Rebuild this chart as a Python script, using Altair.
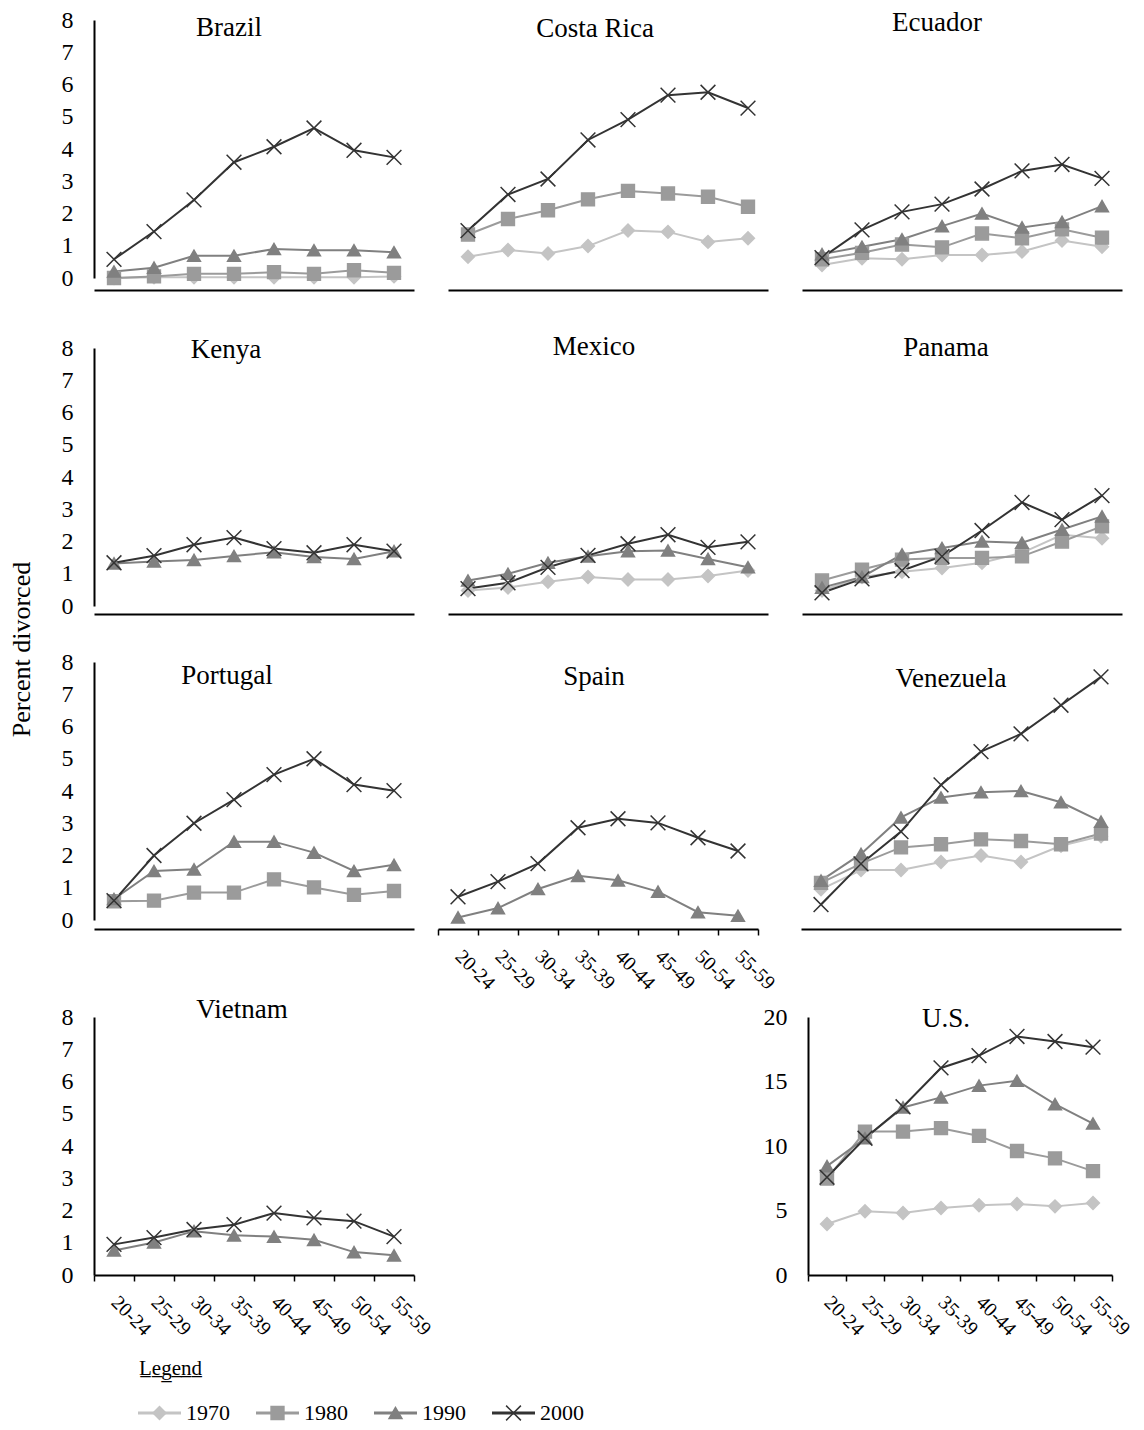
import altair as alt
import pandas as pd

FONT = "Liberation Serif"
AGES = ["20-24", "25-29", "30-34", "35-39", "40-44", "45-49", "50-54", "55-59"]
YEARS = ["1970", "1980", "1990", "2000"]
YEAR_INDEX = [0, 1, 2, 3]
COLORS = ["#c4c4c4", "#9b9b9b", "#808080", "#333333"]
X_MARK = "M-1.15,-1.15L1.15,1.15M-1.15,1.15L1.15,-1.15"
SHAPES = ["diamond", "square", "triangle-up", X_MARK]

BRAZIL_1970 = [0.00, 0.02, 0.02, 0.02, 0.02, 0.02, 0.02, 0.05]
BRAZIL_1980 = [0.00, 0.05, 0.13, 0.13, 0.18, 0.13, 0.24, 0.16]
BRAZIL_1990 = [0.20, 0.32, 0.69, 0.69, 0.90, 0.86, 0.86, 0.80]
BRAZIL_2000 = [0.58, 1.44, 2.42, 3.59, 4.07, 4.65, 3.96, 3.74]

COSTA_1970 = [0.66, 0.87, 0.76, 0.99, 1.47, 1.43, 1.12, 1.23]
COSTA_1980 = [1.35, 1.83, 2.10, 2.44, 2.70, 2.62, 2.52, 2.21]
COSTA_2000 = [1.47, 2.59, 3.07, 4.28, 4.91, 5.67, 5.76, 5.27]

ECUADOR_1970 = [0.40, 0.61, 0.58, 0.71, 0.71, 0.82, 1.16, 0.97]
ECUADOR_1980 = [0.58, 0.78, 1.04, 0.95, 1.38, 1.23, 1.51, 1.25]
ECUADOR_1990 = [0.74, 0.97, 1.20, 1.61, 2.00, 1.57, 1.74, 2.23]
ECUADOR_2000 = [0.63, 1.49, 2.05, 2.29, 2.76, 3.32, 3.52, 3.09]

KENYA_1990 = [1.32, 1.38, 1.43, 1.55, 1.67, 1.52, 1.46, 1.70]
KENYA_2000 = [1.34, 1.56, 1.90, 2.12, 1.78, 1.65, 1.90, 1.70]

MEXICO_1970 = [0.48, 0.57, 0.75, 0.90, 0.82, 0.82, 0.93, 1.10]
MEXICO_1990 = [0.79, 1.00, 1.34, 1.54, 1.70, 1.72, 1.46, 1.20]
MEXICO_2000 = [0.54, 0.72, 1.20, 1.57, 1.93, 2.21, 1.82, 1.99]

PANAMA_1970 = [0.48, 0.90, 1.06, 1.18, 1.34, 1.65, 2.21, 2.10]
PANAMA_1980 = [0.79, 1.13, 1.44, 1.49, 1.49, 1.54, 2.00, 2.47]
PANAMA_1990 = [0.57, 0.90, 1.60, 1.80, 2.00, 1.96, 2.37, 2.78]
PANAMA_2000 = [0.41, 0.84, 1.10, 1.54, 2.34, 3.21, 2.68, 3.42]

PORTUGAL_1980 = [0.58, 0.60, 0.85, 0.85, 1.26, 1.01, 0.78, 0.90]
PORTUGAL_1990 = [0.65, 1.52, 1.57, 2.43, 2.43, 2.09, 1.52, 1.71]
PORTUGAL_2000 = [0.60, 2.00, 3.00, 3.73, 4.51, 5.00, 4.20, 4.01]

SPAIN_1990 = [0.08, 0.37, 0.96, 1.37, 1.23, 0.88, 0.24, 0.13]
SPAIN_2000 = [0.72, 1.19, 1.75, 2.86, 3.14, 3.01, 2.55, 2.14]

VENEZUELA_1970 = [0.95, 1.55, 1.55, 1.80, 2.00, 1.80, 2.30, 2.60]
VENEZUELA_1980 = [1.15, 1.75, 2.25, 2.35, 2.50, 2.45, 2.35, 2.68]
VENEZUELA_1990 = [1.22, 2.05, 3.18, 3.80, 3.96, 4.00, 3.65, 3.05]
VENEZUELA_2000 = [0.48, 1.74, 2.74, 4.19, 5.22, 5.77, 6.66, 7.54]

VIETNAM_1990 = [0.76, 1.01, 1.36, 1.23, 1.19, 1.09, 0.71, 0.61]
VIETNAM_2000 = [0.95, 1.16, 1.41, 1.56, 1.92, 1.77, 1.67, 1.19]

US_1970 = [3.95, 4.94, 4.81, 5.19, 5.40, 5.51, 5.32, 5.58]
US_1980 = [7.48, 11.12, 11.12, 11.38, 10.78, 9.61, 9.04, 8.05]
US_1990 = [8.44, 10.60, 12.99, 13.77, 14.68, 15.06, 13.25, 11.74]
US_2000 = [7.58, 10.60, 13.04, 16.05, 17.01, 18.49, 18.10, 17.66]


def frame(series):
    rows = []
    for year, vals in series:
        for age, v in zip(AGES, vals):
            rows.append({"age": age, "year": year, "value": v})
    return pd.DataFrame(rows)


color_enc = alt.Color("year:N", scale=alt.Scale(domain=YEARS, range=COLORS), legend=None)
shape_enc = alt.Shape("year:N", scale=alt.Scale(domain=YEARS, range=SHAPES), legend=None)
stroke_enc = alt.Stroke("year:N", scale=alt.Scale(domain=YEARS, range=COLORS), legend=None)


def panel(name, series, ymax=8, ystep=1, yaxis=False, xlabels=False, xoff=10,
          tdx=-15, tdy=15, width=320, height=258):
    df = frame(series)
    xaxis = alt.Axis(title=None, labels=xlabels, ticks=xlabels, tickBand="extent",
                     domain=True, domainColor="black", domainWidth=2, offset=xoff,
                     labelAngle=45, labelAlign="left", labelBaseline="middle",
                     labelFont=FONT, labelFontSize=20, labelColor="black",
                     labelPadding=18, tickSize=6, tickColor="black", tickWidth=1.5,
                     grid=False)
    if yaxis:
        yax = alt.Axis(title=None, values=list(range(0, ymax + 1, ystep)), grid=False,
                       ticks=False, domain=True, domainColor="black", domainWidth=2,
                       labelFont=FONT, labelFontSize=24, labelColor="black",
                       labelPadding=21)
    else:
        yax = None
    x = alt.X("age:N", sort=AGES, bandPosition=0.5,
              scale=alt.Scale(type="band", domain=AGES, paddingInner=0, paddingOuter=0),
              axis=xaxis)
    y = alt.Y("value:Q", scale=alt.Scale(domain=[0, ymax], nice=False, zero=True), axis=yax)
    base = alt.Chart(df).encode(x=x, y=y, color=color_enc)
    line = base.mark_line(strokeWidth=2)
    pts = base.mark_point(filled=True, size=165, strokeWidth=1.5, opacity=1).encode(
        shape=shape_enc, stroke=stroke_enc)
    head = alt.Chart(pd.DataFrame({"name": [name]})).mark_text(
        font=FONT, fontSize=27, align="center", baseline="alphabetic", color="black"
    ).encode(x=alt.value(width / 2 + tdx), y=alt.value(tdy), text="name:N")
    return alt.layer(line, pts, head).properties(width=width, height=height)


brazil = panel("Brazil", [("1970", BRAZIL_1970), ("1980", BRAZIL_1980),
                          ("1990", BRAZIL_1990), ("2000", BRAZIL_2000)],
               yaxis=True, xoff=12, tdx=-25, tdy=16)
costa = panel("Costa Rica", [("1970", COSTA_1970), ("1980", COSTA_1980),
                             ("2000", COSTA_2000)], xoff=12, tdx=-13, tdy=17)
ecuador = panel("Ecuador", [("1970", ECUADOR_1970), ("1980", ECUADOR_1980),
                            ("1990", ECUADOR_1990), ("2000", ECUADOR_2000)],
                xoff=12, tdx=-25, tdy=11)

kenya = panel("Kenya", [("1990", KENYA_1990), ("2000", KENYA_2000)],
              yaxis=True, xoff=8, tdx=-28, tdy=10)
mexico = panel("Mexico", [("1970", MEXICO_1970), ("1990", MEXICO_1990),
                          ("2000", MEXICO_2000)], xoff=8, tdx=-14, tdy=7)
panama = panel("Panama", [("1970", PANAMA_1970), ("1980", PANAMA_1980),
                          ("1990", PANAMA_1990), ("2000", PANAMA_2000)],
               xoff=8, tdx=-16, tdy=8)

portugal = panel("Portugal", [("1980", PORTUGAL_1980), ("1990", PORTUGAL_1990),
                              ("2000", PORTUGAL_2000)],
                 yaxis=True, xoff=9, tdx=-27, tdy=22)
spain = panel("Spain", [("1990", SPAIN_1990), ("2000", SPAIN_2000)],
              xlabels=True, xoff=9, tdx=-4, tdy=23)
venezuela = panel("Venezuela", [("1970", VENEZUELA_1970), ("1980", VENEZUELA_1980),
                                ("1990", VENEZUELA_1990), ("2000", VENEZUELA_2000)],
                  xoff=9, tdx=-10, tdy=25)

vietnam = panel("Vietnam", [("1990", VIETNAM_1990), ("2000", VIETNAM_2000)],
                yaxis=True, xlabels=True, xoff=0, tdx=-12, tdy=1, width=320)
us = panel("U.S.", [("1970", US_1970), ("1980", US_1980),
                    ("1990", US_1990), ("2000", US_2000)],
           ymax=20, ystep=5, yaxis=True, xlabels=True, xoff=0, tdx=-14, tdy=10,
           width=304)

# legend built from the year list
leg_df = pd.DataFrame({"year": YEARS, "idx": YEAR_INDEX})
lx = alt.X("idx:Q", scale=alt.Scale(domain=[0, 4], range=[44, 516], nice=False, zero=False),
           axis=None)
lbase = alt.Chart(leg_df).encode(x=lx)
seg = lbase.mark_rule(strokeWidth=3, x2Offset=43).encode(
    x2="idx:Q", y=alt.value(12), color=color_enc)
lpts = lbase.mark_point(filled=True, size=165, strokeWidth=1.5, opacity=1,
                        xOffset=21.5).encode(y=alt.value(12), color=color_enc,
                                             shape=shape_enc, stroke=stroke_enc)
ltxt = lbase.mark_text(align="left", baseline="middle", xOffset=48, font=FONT,
                       fontSize=22, color="black").encode(y=alt.value(12), text="year:N")
legend = alt.layer(seg, lpts, ltxt).properties(
    width=560, height=24,
    title=alt.TitleParams("L\u0332e\u0332g\u0332e\u0332n\u0332d\u0332", font=FONT,
                          fontSize=21, fontWeight="normal", color="black",
                          anchor="start", dx=45, offset=22))

row1 = alt.hconcat(brazil, costa, ecuador, spacing=34)
row2 = alt.hconcat(kenya, mexico, panama, spacing=34)
row3 = alt.hconcat(alt.hconcat(portugal, spain, spacing=16), venezuela, spacing=22)
row4 = alt.hconcat(vietnam, us, spacing=328)

grid = alt.vconcat(alt.vconcat(alt.vconcat(row1, row2, spacing=43), row3, spacing=32),
                   row4, spacing=2)

chart = alt.vconcat(grid, legend, spacing=18).properties(
    padding={"left": 0, "top": 0, "right": 0, "bottom": 0},
    title=alt.TitleParams("Percent divorced", orient="left", anchor="middle",
                          font=FONT, fontSize=26, fontWeight="normal", color="black",
                          dx=67, offset=26),
).configure(font=FONT, background="white").configure_view(strokeWidth=0)

chart.save("out.html", embed_options={"renderer": "svg", "actions": False})
